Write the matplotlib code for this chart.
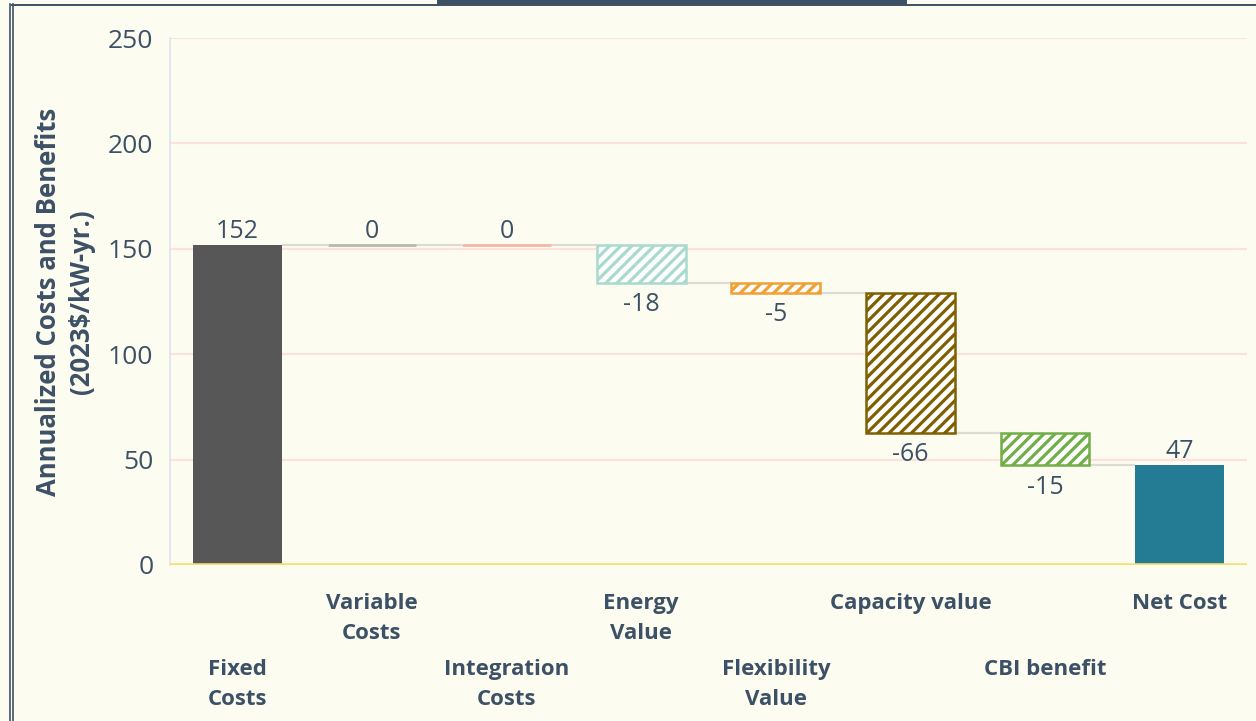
import matplotlib
matplotlib.use("Agg")
import matplotlib.pyplot as plt
from matplotlib.lines import Line2D
from matplotlib.patches import Rectangle
import numpy as np

# ---------------- data ----------------
categories = ["Fixed\nCosts", "Variable\nCosts", "Integration\nCosts", "Energy\nValue",
              "Flexibility\nValue", "Capacity value", "CBI benefit", "Net Cost"]
steps = [151.8, 0.0, 0.0, -17.9, -4.7, -66.4, -15.4]   # waterfall components
yticks = [0, 50, 100, 150, 200, 250]

# ---------------- styles ----------------
BG = "#fdfcf0"
TXT = "#3d5166"
styles = [
    dict(color="#575757", hatch=None),
    dict(color="#b8b8ae", hatch=None),
    dict(color="#f2b9a4", hatch=None),
    dict(color="#a9dacd", hatch="///"),
    dict(color="#f0a034", hatch="///"),
    dict(color="#7f6000", hatch="///"),
    dict(color="#72ae47", hatch="///"),
    dict(color="#237b94", hatch=None),
]
FONT = "Open Sans"
plt.rcParams["font.family"] = [FONT, "DejaVu Sans"]
plt.rcParams["hatch.linewidth"] = 2.3

W, H = 1256, 721
fig = plt.figure(figsize=(W / 100, H / 100), dpi=100, facecolor=BG)
ax = fig.add_axes([170 / W, 1 - 565 / H, (1247 - 170) / W, (565 - 38) / H])
ax.set_facecolor(BG)

# waterfall geometry
net = float(np.sum(steps))
values = steps + [net]
n = len(values)
x = np.arange(n)
bw = 0.66
bottoms, heights = [], []
running = 0.0
for i, v in enumerate(values):
    if i == n - 1:
        bottoms.append(0.0)
        heights.append(v)
    else:
        lo = min(running, running + v)
        bottoms.append(lo)
        heights.append(abs(v))
        running += v

# grid
for yt in yticks[1:]:
    ax.axhline(yt, color="#fde1dc", lw=1.6, zorder=0)
ax.axhline(0, color="#f3e176", lw=2.6, zorder=3)

# connectors
running = 0.0
levels = []
for i, v in enumerate(values[:-1]):
    running += v
    levels.append(running)
for i, lv in enumerate(levels):
    ax.plot([x[i] + bw / 2, x[i + 1] - bw / 2], [lv, lv], color="#dcdcd4", lw=1.6, zorder=1,
            solid_capstyle="butt")

# bars
for i in range(n):
    st = styles[i]
    if heights[i] == 0:
        ax.plot([x[i] - bw / 2, x[i] + bw / 2], [bottoms[i], bottoms[i]], color=st["color"],
                lw=2.0, zorder=2, solid_capstyle="butt")
    elif st["hatch"]:
        ax.bar(x[i], heights[i], bottom=bottoms[i], width=bw, facecolor="white",
               edgecolor=st["color"], hatch=st["hatch"], linewidth=1.8, zorder=2)
    else:
        ax.bar(x[i], heights[i], bottom=bottoms[i], width=bw, color=st["color"],
               linewidth=0, zorder=2)

# data labels
for i, v in enumerate(values):
    lab = f"{v:.0f}"
    if v >= 0:
        ax.annotate(lab, (x[i], bottoms[i] + heights[i]), xytext=(0, 1.0),
                    textcoords="offset points", ha="center", va="bottom",
                    fontsize=18, color=TXT, zorder=5)
    else:
        ax.annotate(lab, (x[i], bottoms[i]), xytext=(0, -7.0),
                    textcoords="offset points", ha="center", va="top",
                    fontsize=18, color=TXT, zorder=5)

# axes
ax.set_xlim(-0.5, n - 0.5)
ax.set_ylim(0, 250)
ax.set_yticks(yticks)
ax.set_yticklabels([str(t) for t in yticks], fontsize=19, color=TXT)
ax.tick_params(axis="y", length=0, pad=12)
ax.set_xticks(x)
ax.set_xticklabels(categories, fontsize=16, fontweight="bold", color=TXT, linespacing=1.55)
ax.tick_params(axis="x", length=0)
for i, tk in enumerate(ax.xaxis.get_major_ticks()):
    tk.set_pad(20 if i % 2 == 1 else 68)
for s in ["top", "right", "bottom"]:
    ax.spines[s].set_visible(False)
ax.spines["left"].set_color("#dfe5ee")
ax.spines["left"].set_linewidth(1.2)

ax.set_ylabel("Annualized Costs and Benefits\n(2023$/kW-yr.)", fontsize=18.5, fontweight="bold",
              color=TXT, linespacing=1.3, labelpad=9)

# frame decorations (figure pixel coordinates)
def px(xp, yp):
    return xp / W, 1 - yp / H

fig.add_artist(Line2D([10 / W, 10 / W], [0, 1 - 4 / H], color="#3d5166", lw=1.2))
fig.add_artist(Line2D([13 / W, 13 / W], [0, 1 - 4 / H], color="#3d5166", lw=1.2))
fig.add_artist(Line2D([12 / W, 1], [1 - 4.5 / H, 1 - 4.5 / H], color="#3d5166", lw=1.4))
fig.add_artist(Rectangle(px(437, 5), (907 - 437) / W, 5 / H, transform=fig.transFigure,
                         facecolor="#3d5166", edgecolor="none"))

fig.savefig("out.png", dpi=100, facecolor=BG)
